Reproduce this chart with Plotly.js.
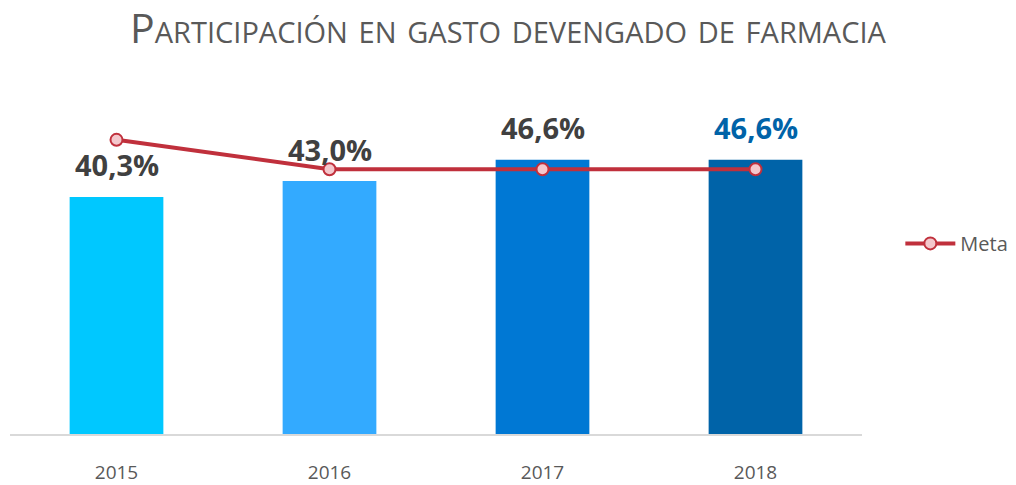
<!DOCTYPE html>
<html><head><meta charset="utf-8">
<script src="https://cdn.plot.ly/plotly-3.0.1.min.js"></script>
<style>body{margin:0;background:#fff}#c{width:1016px;height:485px}</style>
</head><body><div id="c"></div>
<script>
const years = ['2015','2016','2017','2018'];
const participacion = [40.3, 43.0, 46.6, 46.6];
const labels = ['40,3%','43,0%','46,6%','46,6%'];
const meta = [50, 45, 45, 45];
const barColors = ['#00C8FF','#33AAFF','#0078D4','#0063A8'];
const labelColors = ['#404040','#404040','#404040','#0063A8'];

const traces = [
  {type:'bar', x:years, y:participacion, marker:{color:barColors}, width:0.44,
   showlegend:false, hoverinfo:'skip'},
  {type:'scatter', mode:'lines+markers', x:years, y:meta, name:'Meta',
   line:{color:'#C0303C', width:4},
   marker:{size:12, color:'#F4C7CC', line:{color:'#C0303C', width:2}}}
];
const annotations = years.map((yr,i)=>({
  x:i, y:participacion[i], text:labels[i], showarrow:false,
  yanchor:'middle', yshift:32,
  font:{family:'Open Sans, sans-serif', size:29, color:labelColors[i], weight:'bold'}
}));
const layout = {
  width:1016, height:485,
  margin:{l:10, r:154, t:81, b:51, autoexpand:false},
  paper_bgcolor:'#fff', plot_bgcolor:'#fff',
  title:{text:'Participación en gasto devengado de farmacia',
    font:{family:'Open Sans, sans-serif', size:41, color:'#595959', variant:'small-caps'},
    x:0.5, xanchor:'center', xref:'container', y:0.94, yanchor:'middle'},
  xaxis:{type:'category', range:[-0.5,3.5], showline:true, linecolor:'#D9D9D9', linewidth:2,
    tickfont:{family:'Open Sans, sans-serif', size:19, color:'#595959'},
    ticks:'', ticklabelstandoff:20, showgrid:false, zeroline:false},
  yaxis:{range:[0,60], visible:false, showgrid:false, zeroline:false},
  legend:{x:1.045, xanchor:'left', y:0.54, yanchor:'middle', itemwidth:50,
    font:{family:'Open Sans, sans-serif', size:20, color:'#595959'}},
  annotations:annotations
};
Plotly.newPlot('c', traces, layout, {displayModeBar:false, staticPlot:true});
</script></body></html>
